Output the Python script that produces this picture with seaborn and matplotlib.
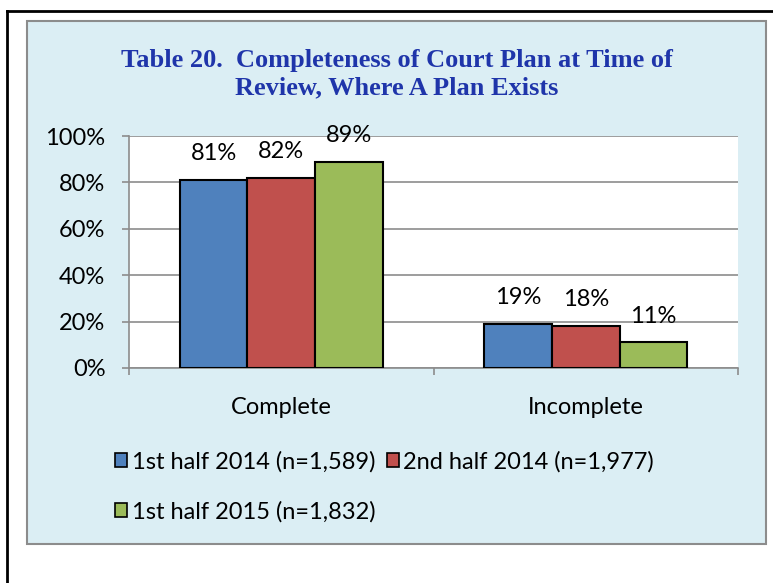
import matplotlib
matplotlib.use("Agg")
import matplotlib.pyplot as plt
from matplotlib.patches import Rectangle, Patch
from matplotlib.ticker import FuncFormatter, MultipleLocator
import pandas as pd
import seaborn as sns

categories = ["Complete", "Incomplete"]
periods = ["1st half 2014 (n=1,589)", "2nd half 2014 (n=1,977)", "1st half 2015 (n=1,832)"]
complete_pct = [81, 82, 89]
incomplete_pct = [19, 18, 11]
colors = ["#4F81BD", "#C0504D", "#9BBB59"]

rows = []
for p, c, i in zip(periods, complete_pct, incomplete_pct):
    rows.append({"category": "Complete", "period": p, "value": c})
    rows.append({"category": "Incomplete", "period": p, "value": i})
df = pd.DataFrame(rows)

W, H = 773, 583
fig = plt.figure(figsize=(W / 100, H / 100), dpi=100)
fig.patch.set_facecolor("white")

# outer frame (open on the right) and the light blue panel
fig.add_artist(plt.Line2D([7 / W, 7 / W], [0, 1 - 11 / H], transform=fig.transFigure, color="black", lw=2))
fig.add_artist(plt.Line2D([7 / W, 1], [1 - 11 / H, 1 - 11 / H], transform=fig.transFigure, color="black", lw=2))
fig.add_artist(Rectangle((27 / W, 1 - 544 / H), (766 - 27) / W, (544 - 21) / H, transform=fig.transFigure,
                         facecolor="#DBEEF4", edgecolor="#8C8C8C", lw=1.5, zorder=0))

font = "Lato"
fs = 17
title_kw = dict(ha="center", va="center", fontsize=19, fontweight="bold", color="#1F35AA",
                family="Liberation Serif")
fig.text(397 / W, 1 - 60 / H, "Table 20.  Completeness of Court Plan at Time of", **title_kw)
fig.text(397 / W, 1 - 88 / H, "Review, Where A Plan Exists", **title_kw)

ax = fig.add_axes([129 / W, 1 - 368 / H, (738 - 129) / W, (368 - 136) / H])
ax.set_facecolor("white")
sns.barplot(data=df, x="category", y="value", hue="period", order=categories, hue_order=periods,
            palette=colors, saturation=1, width=2 / 3, gap=0, edgecolor="black", linewidth=1.5, ax=ax,
            legend=False, zorder=3)

ax.set_xlim(-0.5, 1.5)
ax.set_ylim(0, 100)
ax.yaxis.set_major_locator(MultipleLocator(20))
ax.yaxis.set_major_formatter(FuncFormatter(lambda v, _: f"{v:.0f}%"))
ax.grid(axis="y", color="#8C8C8C", lw=1.2, zorder=0)
ax.set_axisbelow(True)
for s in ["top", "right"]:
    ax.spines[s].set_visible(False)
for s in ["left", "bottom"]:
    ax.spines[s].set_color("#8C8C8C")
    ax.spines[s].set_linewidth(1.2)
ax.set_xlabel("")
ax.set_ylabel("")
ax.tick_params(axis="y", length=5, color="#8C8C8C", width=1.2, pad=12, labelsize=fs)
ax.tick_params(axis="x", which="major", length=0, pad=21, labelsize=fs)
ax.set_xticks([-0.5, 0.5, 1.5], minor=True)
ax.tick_params(axis="x", which="minor", length=5, color="#8C8C8C", width=1.2)
for lbl in ax.get_xticklabels() + ax.get_yticklabels():
    lbl.set_family(font)

for cont in ax.containers:
    for bar in cont:
        h = bar.get_height()
        ax.annotate(f"{h:.0f}%", (bar.get_x() + bar.get_width() / 2, h), xytext=(0, 19),
                    textcoords="offset points", ha="center", va="center", fontsize=fs, family=font,
                    annotation_clip=False)

# legend fills column by column, so order items to read row by row
order = [0, 2, 1]
handles = [Patch(facecolor=colors[k], edgecolor="black", lw=1.2) for k in order]
labels = [periods[k] for k in order]
leg = fig.legend(handles, labels, loc="upper left", bbox_to_anchor=(115 / W, 1 - 451 / H), ncol=2,
                 frameon=False, borderpad=0, borderaxespad=0, handlelength=0.5, handleheight=0.5,
                 handletextpad=0.2, columnspacing=0.5, labelspacing=1.2, prop={"family": font, "size": fs})

fig.savefig("out.png", dpi=100)
